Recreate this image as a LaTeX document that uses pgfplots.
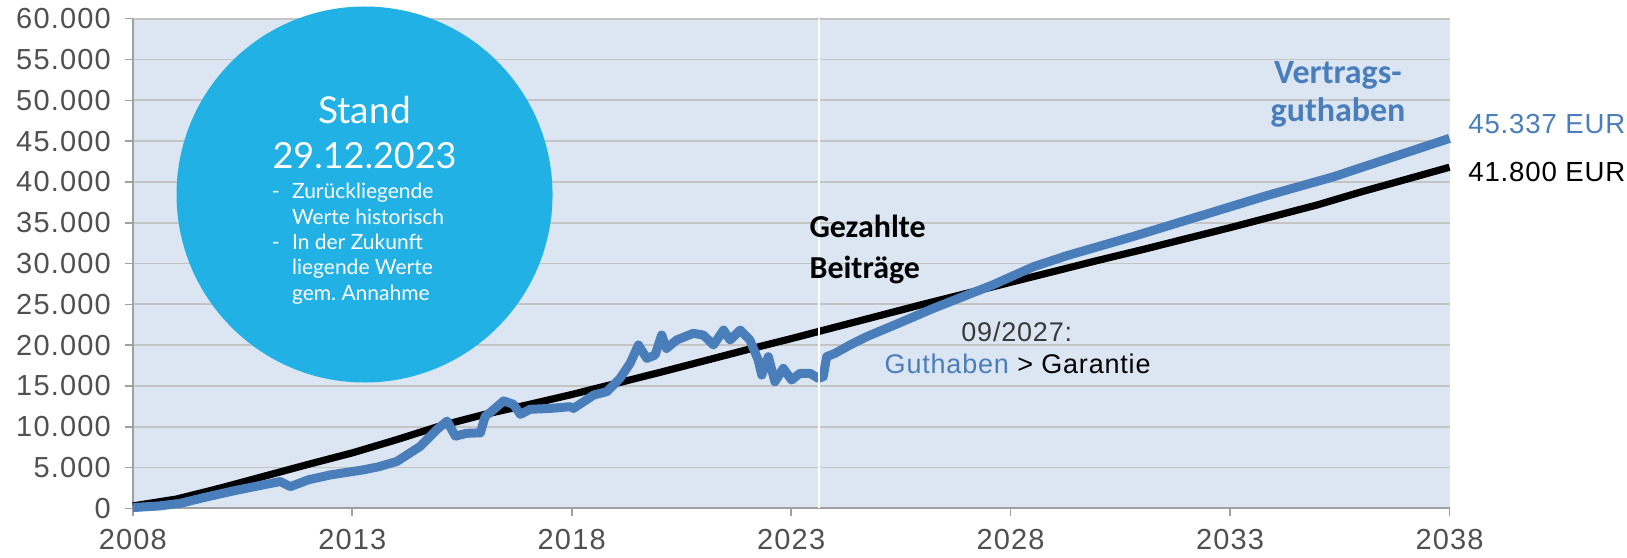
\documentclass[border=0pt]{standalone}
\usepackage{pgfplots}
\pgfplotsset{compat=1.18}
\usepackage{fontspec}
\setmainfont{Liberation Sans}
\newfontfamily\tickfont[LetterSpace=4]{Liberation Sans}
\newfontfamily\lblfont[LetterSpace=3]{Liberation Sans}
\newfontfamily\calib{Carlito}
\newfontfamily\lato{Lato}
\definecolor{bgblue}{HTML}{DCE6F2}
\definecolor{gridc}{HTML}{C4C4C4}
\definecolor{axisc}{HTML}{A0A0A0}
\definecolor{tickgray}{HTML}{505050}
\definecolor{circ}{HTML}{21B1E4}
\definecolor{blueline}{HTML}{4A7EBB}
\definecolor{lblgray}{HTML}{3A3A3A}
\frenchspacing
\begin{document}
\begin{tikzpicture}
\begin{axis}[name=ax, scale only axis, width=658.35pt, height=244.85pt,
  xmin=2008, xmax=2038, ymin=0, ymax=60000,
  axis x line=bottom, axis y line=left,
  axis line style={-, draw=axisc, line width=1pt},
  axis background/.style={fill=bgblue},
  xtick={2008,2013,2018,2023,2028,2033,2038},
  ytick={0,5000,10000,15000,20000,25000,30000,35000,40000,45000,50000,55000,60000},
  ymajorgrids, major grid style={gridc, line width=0.9pt},
  tick align=outside, major tick length=4pt, tick style={axisc, line width=0.8pt},
  scaled ticks=false,
  yticklabel style={xshift=-3.5pt, /pgf/number format/.cd, fixed, 1000 sep={.}, assume math mode=true},
  xticklabel style={yshift=-3pt, /pgf/number format/.cd, 1000 sep={}, assume math mode=true},
  ticklabel style={font=\tickfont\fontsize{14.5}{17}\selectfont, text=tickgray},
  clip=false,
]
% circle
\fill[circ] (axis cs:2013.28,38460) circle[radius=94pt];
\node[white, anchor=base, inner sep=0pt, font=\lato\fontsize{18.5}{20}\selectfont] at (axis cs:2013.28,47180) {Stand};
\node[white, anchor=base, inner sep=0pt, font=\lato\fontsize{18}{20}\selectfont] at (axis cs:2013.28,41670) {29.12.2023};
\begin{scope}[every node/.style={white, inner sep=0pt, font=\lato\fontsize{10.5}{12}\selectfont}]
\node[anchor=base east] at (axis cs:2011.354,37960) {-};
\node[anchor=base west] at (axis cs:2011.62,37960) {Zurückliegende};
\node[anchor=base west] at (axis cs:2011.62,34810) {Werte historisch};
\node[anchor=base east] at (axis cs:2011.354,31750) {-};
\node[anchor=base west] at (axis cs:2011.62,31750) {In der Zukunft};
\node[anchor=base west] at (axis cs:2011.62,28680) {liegende Werte};
\node[anchor=base west] at (axis cs:2011.62,25500) {gem. Annahme};
\end{scope}
% paid contributions
\addplot[black, line width=3.6pt, line join=round] coordinates {
(2008,300) (2009,1150) (2010,2500) (2011,3950) (2012,5400) (2013,6800)
(2014,8400) (2015,10100) (2016,11500) (2017,12700) (2018,13950) (2019,15300)
(2020,16650) (2021,18050) (2022,19450) (2023,20800) (2024,22200) (2025,23600)
(2026,25000) (2027,26350) (2028,27700) (2029,29050) (2030,30400) (2031,31700)
(2032,33050) (2033,34400) (2034,35800) (2035,37200) (2036,38800) (2037,40300)
(2038,41800)};
% contract balance
\addplot[blueline, line width=4.5pt, line join=round] coordinates {
(2008.0,100) (2008.6,300) (2009.08,620) (2009.6,1300) (2010.22,2060) (2010.8,2700)
(2011.36,3290) (2011.59,2670) (2012.0,3500) (2012.5,4100) (2013.26,4730) (2013.6,5100)
(2014.02,5760) (2014.55,7610) (2014.93,9670) (2015.16,10700) (2015.35,8850) (2015.6,9200)
(2015.92,9260) (2016.03,11300) (2016.14,11730) (2016.45,13170) (2016.67,12760) (2016.83,11520)
(2017.05,12140) (2017.51,12250) (2017.96,12460) (2018.04,12250) (2018.5,13890) (2018.8,14300)
(2019.1,15930) (2019.33,17770) (2019.52,20020) (2019.71,18380) (2019.9,18790) (2020.05,21240)
(2020.16,19600) (2020.39,20630) (2020.77,21450) (2021.0,21240) (2021.23,20020) (2021.46,21850)
(2021.61,20630) (2021.84,21850) (2022.06,20630) (2022.25,18180) (2022.33,16340) (2022.48,18590)
(2022.63,15520) (2022.82,17160) (2023.01,15730) (2023.2,16550) (2023.43,16550) (2023.62,15930)
(2023.73,16140) (2023.81,18590) (2024.0,19000) (2024.34,20020) (2024.72,21040) (2025.5,22800)
(2026.24,24510) (2027.6,27400) (2028.52,29610) (2029.28,30960) (2030.8,33330) (2032.32,35830)
(2033.84,38330) (2035.35,40620) (2036.87,43330) (2038.0,45337)};
% today line
\draw[white, line width=0.9pt] (axis cs:2023.64,0) -- (axis cs:2023.64,60000);
% labels
\node[anchor=base west, inner sep=0pt, font=\calib\bfseries\fontsize{16}{19}\selectfont] at (axis cs:2023.41,33150) {Gezahlte};
\node[anchor=base west, inner sep=0pt, font=\calib\bfseries\fontsize{16}{19}\selectfont] at (axis cs:2023.41,28110) {Beiträge};
\node[anchor=base, inner sep=0pt, text=blueline, font=\calib\bfseries\fontsize{17}{20}\selectfont] at (axis cs:2035.46,52080) {Vertrags-};
\node[anchor=base, inner sep=0pt, text=blueline, font=\calib\bfseries\fontsize{17}{20}\selectfont] at (axis cs:2035.46,47380) {guthaben};
\node[anchor=base, inner sep=0pt, text=lblgray, font=\lblfont\fontsize{13.5}{16}\selectfont] at (axis cs:2028.14,20420) {09/2027:};
\node[anchor=base, inner sep=0pt, font=\lblfont\fontsize{13.5}{16}\selectfont] at (axis cs:2028.16,16550) {\textcolor{blueline}{Guthaben} > Garantie};
\node[anchor=base west, inner sep=0pt, text=blueline, font=\lblfont\fontsize{13.8}{16}\selectfont] at (axis cs:2038.42,45960) {45.337 EUR};
\node[anchor=base west, inner sep=0pt, text=black, font=\lblfont\fontsize{13.8}{16}\selectfont] at (axis cs:2038.42,40030) {41.800 EUR};
\end{axis}
\pgfresetboundingbox
\path[use as bounding box] ([shift={(-66.4pt,-24.3pt)}]ax.south west) rectangle ([shift={(88.75pt,9.35pt)}]ax.north east);
\end{tikzpicture}
\end{document}
